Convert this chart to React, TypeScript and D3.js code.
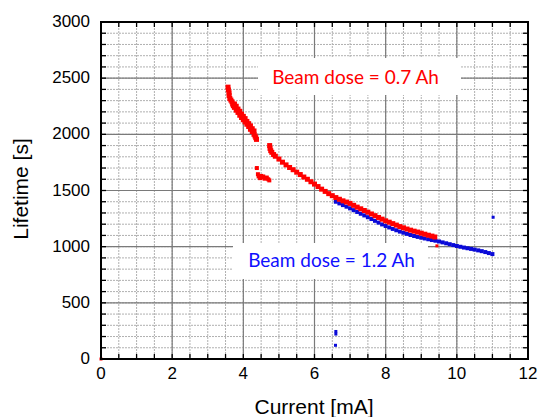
import React from "react";
import * as d3 from "d3";

// ---- data ----
const xTicks = [0, 2, 4, 6, 8, 10, 12];
const yTicks = [0, 500, 1000, 1500, 2000, 2500, 3000];

// Beam dose = 0.7 Ah (red)
const redEarly: [number, number][] = [
  [3.57, 2420], [3.58, 2395], [3.6, 2370], [3.6, 2345], [3.62, 2320], [3.65, 2305],
  [3.68, 2290], [3.7, 2270], [3.72, 2255], [3.75, 2270], [3.75, 2240], [3.8, 2250],
  [3.8, 2215], [3.85, 2225], [3.85, 2195], [3.9, 2205], [3.9, 2170], [3.95, 2180],
  [3.95, 2150], [4.0, 2160], [4.0, 2130], [4.05, 2140], [4.05, 2110], [4.1, 2115],
  [4.1, 2090], [4.15, 2095], [4.15, 2070], [4.2, 2075], [4.2, 2045], [4.25, 2050],
  [4.25, 2025], [4.3, 2030], [4.3, 2000], [4.33, 1985], [4.35, 1970], [4.37, 1955],
];
const redDip: [number, number][] = [
  [4.38, 1700], [4.41, 1645], [4.43, 1625], [4.47, 1610], [4.5, 1630], [4.53, 1615],
  [4.56, 1625], [4.6, 1605], [4.63, 1612], [4.66, 1615], [4.7, 1600], [4.73, 1590],
];
const redMain: [number, number][] = [
  [4.74, 1900], [4.75, 1875], [4.77, 1855], [4.8, 1840], [4.85, 1820], [4.9, 1805],
  [5.0, 1780], [5.1, 1752], [5.2, 1728], [5.3, 1705], [5.4, 1685], [5.5, 1663],
  [5.6, 1642], [5.7, 1620], [5.8, 1600], [5.9, 1578], [6.0, 1557], [6.1, 1535],
  [6.2, 1512], [6.3, 1492], [6.4, 1472], [6.5, 1454], [6.6, 1437], [6.7, 1422],
  [6.8, 1408], [6.9, 1397], [7.0, 1385], [7.1, 1368], [7.2, 1352], [7.3, 1337],
  [7.4, 1322], [7.5, 1307], [7.6, 1291], [7.7, 1276], [7.8, 1260], [7.9, 1245],
  [8.0, 1230], [8.1, 1218], [8.2, 1205], [8.3, 1192], [8.4, 1179], [8.5, 1168],
  [8.6, 1157], [8.7, 1147], [8.8, 1138], [8.9, 1130], [9.0, 1120], [9.1, 1111],
  [9.2, 1102], [9.3, 1094], [9.38, 1086],
];
const redStray: [number, number][] = [[0, 0], [9.44, 1007]];

// Beam dose = 1.2 Ah (blue)
const blueMain: [number, number][] = [
  [6.6, 1400], [6.7, 1385], [6.8, 1370], [6.9, 1356], [7.0, 1341], [7.1, 1325],
  [7.2, 1309], [7.3, 1293], [7.4, 1278], [7.5, 1262], [7.6, 1246], [7.7, 1230],
  [7.8, 1214], [7.9, 1198], [8.0, 1184], [8.1, 1171], [8.2, 1158], [8.3, 1146],
  [8.4, 1134], [8.5, 1124], [8.6, 1114], [8.7, 1104], [8.8, 1095], [8.9, 1087],
  [9.0, 1080], [9.1, 1073], [9.2, 1066], [9.3, 1059], [9.4, 1053], [9.5, 1046],
  [9.6, 1038], [9.7, 1030], [9.8, 1022], [9.9, 1014], [10.0, 1006], [10.1, 999],
  [10.2, 992], [10.3, 986], [10.4, 980], [10.5, 974], [10.6, 967], [10.7, 960],
  [10.8, 952], [10.9, 943], [11.0, 934],
];
const blueStray: [number, number][] = [[6.6, 245], [6.6, 222], [6.59, 122], [11.02, 1262]];

const labelRed = "Beam dose = 0.7 Ah";
const labelBlue = "Beam dose = 1.2 Ah";
const xTitle = "Current [mA]";
const yTitle = "Lifetime [s]";

export default function App() {
  const W = 540, H = 417;
  const L = 101, R = 528, T = 22, B = 359;
  const x = d3.scaleLinear().domain([0, 12]).range([L, R]);
  const y = d3.scaleLinear().domain([0, 3000]).range([B, T]);

  const xMinor = d3.range(0, 12.001, 0.5);
  const yMinor = d3.range(0, 3000.1, 100);
  const xMajor = d3.range(2, 12, 2);
  const yMajor = d3.range(500, 3000, 500);

  const font = "'Liberation Sans', Arial, sans-serif";
  const labelFont = "Lato, 'Open Sans', sans-serif";

  const sq = (pts: [number, number][], color: string, s: number, key: string) =>
    pts.map((p, i) => (
      <rect key={key + i} x={x(p[0]) - s / 2} y={y(p[1]) - s / 2} width={s} height={s} fill={color} />
    ));

  return (
    <svg width={W} height={H} style={{ position: "absolute", left: 0, top: 0, background: "#fff" }}>
      <rect x={0} y={0} width={W} height={H} fill="#fff" />
      {/* minor grid */}
      {xMinor.map((v) => (
        <line key={"gx" + v} x1={x(v)} x2={x(v)} y1={T} y2={B} stroke="#b0b0b0" strokeWidth={1} strokeDasharray="2,1" />
      ))}
      {yMinor.map((v) => (
        <line key={"gy" + v} x1={L} x2={R} y1={y(v)} y2={y(v)} stroke="#b0b0b0" strokeWidth={1} strokeDasharray="2,1" />
      ))}
      {/* major grid */}
      {xMajor.map((v) => (
        <line key={"Gx" + v} x1={x(v)} x2={x(v)} y1={T} y2={B} stroke="#7a7a7a" strokeWidth={1.2} />
      ))}
      {yMajor.map((v) => (
        <line key={"Gy" + v} x1={L} x2={R} y1={y(v)} y2={y(v)} stroke="#7a7a7a" strokeWidth={1.2} />
      ))}
      {/* ticks */}
      {xMinor.map((v) => (
        <g key={"tx" + v}>
          <line x1={x(v)} x2={x(v)} y1={B} y2={B - 5} stroke="#000" strokeWidth={1.3} />
          <line x1={x(v)} x2={x(v)} y1={T} y2={T + 5} stroke="#000" strokeWidth={1.3} />
        </g>
      ))}
      {yMinor.map((v) => (
        <g key={"ty" + v}>
          <line x1={L} x2={L + 5} y1={y(v)} y2={y(v)} stroke="#000" strokeWidth={1.3} />
          <line x1={R} x2={R - 5} y1={y(v)} y2={y(v)} stroke="#000" strokeWidth={1.3} />
        </g>
      ))}
      {/* label boxes */}
      <rect x={258} y={58} width={203} height={37} fill="#fff" />
      <rect x={233} y={243} width={195} height={36} fill="#fff" />
      {/* data */}
      {sq(blueMain, "#0a0ad8", 4, "bm")}
      {sq(blueStray, "#0a0ad8", 3, "bs")}
      {sq(redEarly, "#ff0000", 5, "re")}
      {sq(redDip, "#ff0000", 4, "rd")}
      {sq(redMain, "#ff0000", 5, "rm")}
      {sq(redStray, "#ff0000", 3, "rs")}
      {/* frame */}
      <rect x={L} y={T} width={R - L} height={B - T} fill="none" stroke="#000" strokeWidth={2} />
      {/* tick labels */}
      {xTicks.map((v) => (
        <text key={"lx" + v} x={x(v)} y={379} textAnchor="middle" fontFamily={font} fontSize={17} fill="#000">
          {v}
        </text>
      ))}
      {yTicks.map((v) => (
        <text key={"ly" + v} x={90} y={y(v)} dy="0.3em" textAnchor="end" fontFamily={font} fontSize={17} fill="#000">
          {v}
        </text>
      ))}
      <text x={314} y={414} textAnchor="middle" fontFamily={font} fontSize={21} fill="#000">
        {xTitle}
      </text>
      <text transform="translate(28,189) rotate(-90)" textAnchor="middle" fontFamily={font} fontSize={21} fill="#000">
        {yTitle}
      </text>
      <text x={355.5} y={84} textAnchor="middle" fontFamily={labelFont} fontSize={19} fill="#ff0000">
        {labelRed}
      </text>
      <text x={331.5} y={267} textAnchor="middle" fontFamily={labelFont} fontSize={19} fill="#1010ff">
        {labelBlue}
      </text>
    </svg>
  );
}
